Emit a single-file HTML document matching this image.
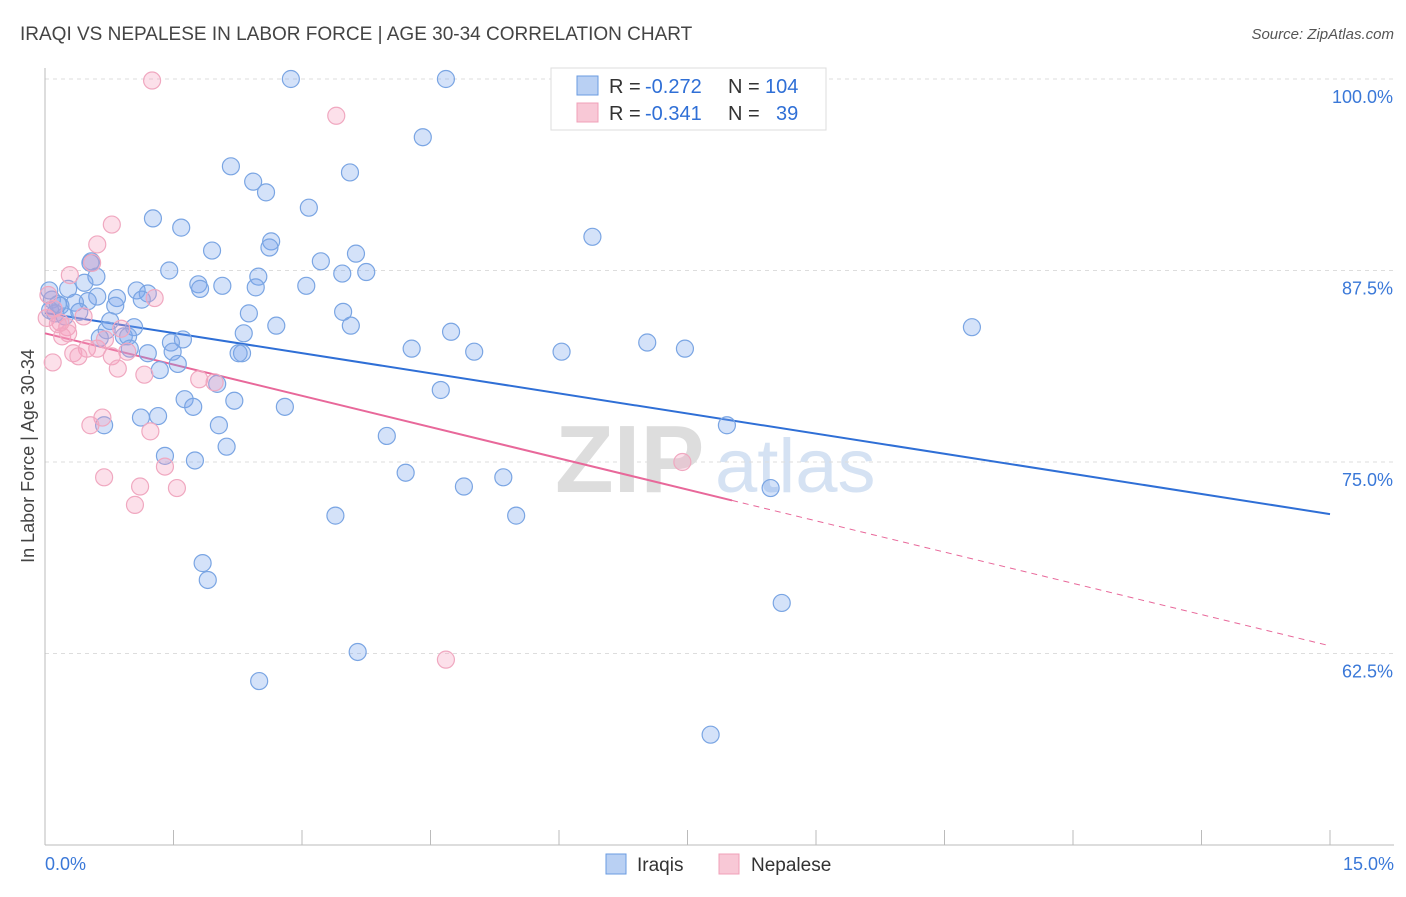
<!DOCTYPE html>
<html><head><meta charset="utf-8">
<style>
body{margin:0;background:#fff;font-family:"Liberation Sans",sans-serif;}
svg text{font-family:"Liberation Sans",sans-serif;}
</style></head>
<body>
<svg id="chart" width="1406" height="892" xmlns="http://www.w3.org/2000/svg">
<text x="20" y="40" font-size="19" fill="#444">IRAQI VS NEPALESE IN LABOR FORCE | AGE 30-34 CORRELATION CHART</text>
<text x="1394" y="39" font-size="15" fill="#555" text-anchor="end" font-style="italic">Source: ZipAtlas.com</text>
<text transform="translate(34,456) rotate(-90)" font-size="18" fill="#444" text-anchor="middle">In Labor Force | Age 30-34</text>
<text x="555" y="492" font-size="96" fill="#ddd" font-family="Liberation Serif" font-weight="bold">ZIP</text>
<text x="715" y="492" font-size="76" fill="#d5e2f3">atlas</text>
<g id="grid"></g><g id="axes"></g><g id="lines"></g><g id="pts"></g>
<g>
<rect x="551" y="68" width="275" height="62" fill="#fff" stroke="#ddd"/>
<rect x="577" y="76" width="21" height="19" fill="#b9d0f3" stroke="#6a9be0"/>
<text x="609" y="93" font-size="20" fill="#333">R =</text>
<text x="645" y="93" font-size="20" fill="#2f6fd6">-0.272</text>
<text x="728" y="93" font-size="20" fill="#333">N =</text>
<text x="765" y="93" font-size="20" fill="#2f6fd6">104</text>
<rect x="577" y="103" width="21" height="19" fill="#f8c8d6" stroke="#f0a0b8"/>
<text x="609" y="120" font-size="20" fill="#333">R =</text>
<text x="645" y="120" font-size="20" fill="#2f6fd6">-0.341</text>
<text x="728" y="120" font-size="20" fill="#333">N =</text>
<text x="776" y="120" font-size="20" fill="#2f6fd6">39</text>
</g>
<g>
<rect x="606" y="854" width="20" height="20" fill="#b9d0f3" stroke="#6a9be0"/>
<text x="637" y="871" font-size="19" fill="#333">Iraqis</text>
<rect x="719" y="854" width="20" height="20" fill="#f8c8d6" stroke="#f0a0b8"/>
<text x="751" y="871" font-size="19" fill="#333">Nepalese</text>
</g>
</svg>
<script>
const yTicks=[100,87.5,75,62.5];
const yTickLabels=["100.0%","87.5%","75.0%","62.5%"];
const xTickCount=10;
const iraqX=[2.87,4.68,4.41,2.17,2.43,2.58,3.56,3.08,1.26,1.59,6.39,1.95,2.64,2.62,3.63,3.22,0.54,0.53,1.45,2.49,3.47,3.75,0.60,0.46,1.79,1.81,2.07,2.46,3.05,1.07,1.20,0.27,0.61,0.84,1.13,0.50,0.35,0.08,0.18,0.06,0.12,0.82,0.23,0.40,2.38,3.48,3.57,2.70,0.76,1.04,0.72,2.32,4.74,10.82,0.64,0.92,0.97,1.61,1.47,7.03,0.99,1.49,4.28,5.01,6.03,7.47,1.20,2.30,2.26,1.55,1.34,2.01,4.62,2.21,1.63,1.73,2.80,1.12,1.32,0.69,2.03,7.96,3.99,2.12,1.40,1.75,4.21,5.35,4.89,8.47,3.39,5.50,1.84,1.90,8.60,3.65,2.50,7.77,0.05,0.15];
const iraqY=[100,100,96.2,94.3,93.3,92.6,93.9,91.6,90.9,90.3,89.7,88.8,89.4,89.0,88.6,88.1,88.1,88.0,87.5,87.1,87.3,87.4,87.1,86.7,86.6,86.3,86.5,86.4,86.5,86.2,86.0,86.3,85.8,85.7,85.6,85.5,85.4,85.6,85.2,84.9,84.7,85.2,84.5,84.8,84.7,84.8,83.9,83.9,84.2,83.8,83.6,83.4,83.5,83.8,83.1,83.2,83.2,83.0,82.8,82.8,82.4,82.2,82.4,82.2,82.2,82.4,82.1,82.1,82.1,81.4,81.0,80.1,79.7,79.0,79.1,78.6,78.6,77.9,78.0,77.4,77.4,77.4,76.7,76.0,75.4,75.1,74.3,74.0,73.4,73.3,71.5,71.5,68.4,67.3,65.8,62.6,60.7,57.2,86.2,85.3];
const nepX=[1.25,3.40,0.78,0.61,0.55,0.29,1.28,0.04,0.02,0.18,0.26,0.89,0.20,0.27,0.49,0.61,0.33,0.39,0.78,0.96,0.09,0.85,1.16,1.80,1.98,0.67,0.53,1.23,1.40,0.69,1.11,1.54,1.05,7.44,4.68,0.10,0.45,0.70,0.15];
const nepY=[99.9,97.6,90.5,89.2,88.0,87.2,85.7,85.9,84.4,84.1,83.8,83.7,83.2,83.4,82.4,82.4,82.1,81.9,81.9,82.2,81.5,81.1,80.7,80.4,80.2,77.9,77.4,77.0,74.7,74.0,73.4,73.3,72.2,75.0,62.1,85.0,84.5,83.0,84.0];
const iraqTrend=[84.73,71.6];
const nepTrend=[83.4,63.0];
const nepSolidEnd=8.02;
const NS="http://www.w3.org/2000/svg";
const X=v=>45+v*(1285/15), Y=v=>79+(100-v)*15.32;
function mk(t,a,p){const e=document.createElementNS(NS,t);for(const k in a)e.setAttribute(k,a[k]);document.getElementById(p).appendChild(e);return e;}
yTicks.forEach((t,i)=>{
 const g=mk('line',{x1:45,x2:1394,y1:Y(t),y2:Y(t),stroke:'#ddd','stroke-dasharray':'4,4'},'grid');
 
 
 const l=mk('text',{x:1393,y:Y(t)+24,'font-size':18,fill:'#3a78d8','text-anchor':'end'},'axes');l.textContent=yTickLabels[i];
 
 
});
mk('line',{x1:45,x2:45,y1:68,y2:845,stroke:'#bbb'},'axes');
mk('line',{x1:45,x2:1394,y1:845,y2:845,stroke:'#bbb'},'axes');
for(let i=0;i<=xTickCount;i++){const t=mk('line',{x1:X(i*1.5),x2:X(i*1.5),y1:830,y2:845,stroke:'#bbb'},'axes');
 
 }
let a=mk('text',{x:45,y:870,'font-size':18,fill:'#3a78d8'},'axes');a.textContent='0.0%';


a=mk('text',{x:1394,y:870,'font-size':18,fill:'#3a78d8','text-anchor':'end'},'axes');a.textContent='15.0%';


function dot(x,y,f,s,n){const c=mk('circle',{cx:X(x),cy:Y(y),r:8.5,fill:f,stroke:s,'stroke-width':1.2},'pts');
 
 }
iraqX.forEach((x,i)=>dot(x,iraqY[i],'rgba(120,165,235,0.32)','#7aa5e3','iraqi-point'));
nepX.forEach((x,i)=>dot(x,nepY[i],'rgba(245,160,190,0.32)','#f0a8c0','nepalese-point'));
let tl=mk('line',{x1:X(0),y1:Y(iraqTrend[0]),x2:X(15),y2:Y(iraqTrend[1]),stroke:'#2f6fd6','stroke-width':2},'lines');


const nAt=x=>nepTrend[0]+(nepTrend[1]-nepTrend[0])*x/15;
tl=mk('line',{x1:X(0),y1:Y(nAt(0)),x2:X(nepSolidEnd),y2:Y(nAt(nepSolidEnd)),stroke:'#e8689a','stroke-width':2},'lines');


tl=mk('line',{x1:X(nepSolidEnd),y1:Y(nAt(nepSolidEnd)),x2:X(15),y2:Y(nAt(15)),stroke:'#e8689a','stroke-width':1,'stroke-dasharray':'6,5'},'lines');


</script>
</body></html>
